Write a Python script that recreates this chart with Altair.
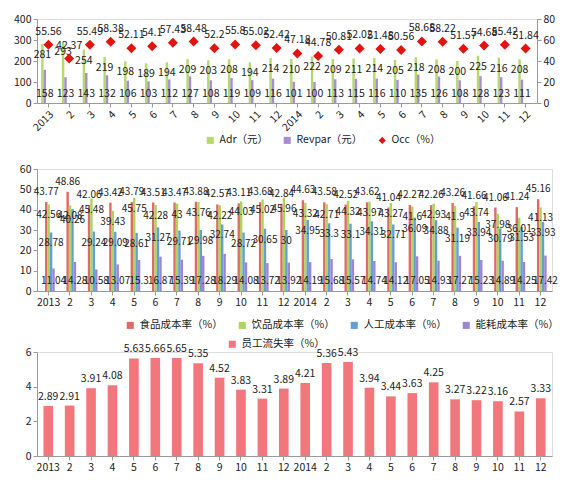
import altair as alt
import pandas as pd

months = ["2013", "2", "3", "4", "5", "6", "7", "8", "9", "10", "11", "12",
          "2014", "2", "3", "4", "5", "6", "7", "8", "9", "10", "11", "12"]

adr = [281, 293, 254, 219, 198, 189, 194, 209, 203, 208, 194, 214,
       210, 222, 209, 211, 214, 205, 218, 208, 200, 225, 216, 208]
revpar = [158, 123, 143, 132, 106, 103, 112, 127, 108, 119, 109, 116,
          101, 100, 113, 115, 116, 110, 135, 126, 108, 128, 123, 111]
occ = [55.56, 42.37, 55.49, 58.38, 52.11, 54.1, 57.43, 58.48, 52.2, 55.8, 55.02, 52.42,
       47.18, 44.78, 50.81, 52.02, 51.48, 50.56, 58.68, 58.22, 51.57, 54.68, 55.42, 51.84]

food = [43.77, 48.86, 42.06, 43.42, 43.79, 43.51, 43.47, 43.88, 42.57, 43.11, 43.68, 42.84,
        44.63, 43.58, 42.52, 43.62, 41.04, 42.27, 42.26, 43.26, 41.66, 41.06, 41.24, 45.16]
drink = [42.56, 42.08, 45.48, 39.43, 45.75, 42.28, 43.00, 43.76, 42.22, 44.03, 45.02, 45.96,
         43.32, 42.71, 44.32, 43.97, 43.27, 41.6, 42.93, 41.9, 43.74, 37.98, 36.01, 41.13]
labor = [28.78, 40.26, 29.24, 29.09, 28.61, 31.27, 29.71, 29.98, 32.74, 28.72, 30.65, 30,
         34.95, 33.3, 33.1, 34.31, 32.71, 36.09, 34.88, 31.19, 33.94, 30.79, 31.53, 33.93]
energy = [11.04, 14.28, 10.58, 13.07, 15.3, 16.87, 15.39, 17.28, 18.29, 14.08, 13.72, 13.92,
          14.19, 15.68, 15.57, 14.74, 14.12, 17.05, 14.93, 17.27, 15.23, 14.89, 14.25, 17.42]

turnover = [2.89, 2.91, 3.91, 4.08, 5.63, 5.66, 5.65, 5.35, 4.52, 3.83, 3.31, 3.89,
            4.21, 5.36, 5.43, 3.94, 3.44, 3.63, 4.25, 3.27, 3.22, 3.16, 2.57, 3.33]

s1 = ["Adr（元）", "Revpar（元）", "Occ（%）"]
s2 = ["食品成本率（%）", "饮品成本率（%）", "人工成本率（%）", "能耗成本率（%）"]
s3 = ["员工流失率（%）"]

c1 = ["#b7d96c", "#a58ed3", "#e3140f"]
c2 = ["#de6b66", "#add45f", "#639fd6", "#9e84d3"]
c3 = ["#f2777d"]

FONT = "Noto Sans CJK SC"
idx = list(range(len(months)))
lab_expr = "[" + ",".join("'%s'" % m for m in months) + "][datum.value]"


def fmt(v):
    return ("%.2f" % v).rstrip("0").rstrip(".")


ax = dict(labelFont=FONT, labelFontSize=10.5, labelColor="#222", domainColor="#9a9a9a",
          tickColor="#9a9a9a", grid=False, title=None, tickSize=4, labelOverlap=False)

# ---------------- Panel 1 ----------------
df1b = pd.DataFrame({"idx": idx * 2, "series": [s1[0]] * 24 + [s1[1]] * 24,
                     "value": adr + revpar})
df1b["label"] = [fmt(v) for v in df1b["value"]]
df1o = pd.DataFrame({"idx": idx, "series": s1[2], "value": occ})
df1o["label"] = [fmt(v) for v in occ]

x1 = alt.X("idx:O", axis=alt.Axis(labelExpr=lab_expr, labelAngle=-45, **ax),
           scale=alt.Scale(paddingInner=0.3, paddingOuter=0.2))
xo1 = alt.XOffset("series:N", scale=alt.Scale(domain=s1[:2]))
ysc1 = alt.Scale(domain=[0, 400])
yax1 = alt.Axis(values=[0, 100, 200, 300, 400], **ax)
y1 = alt.Y("value:Q", scale=ysc1, axis=yax1)
leg1 = alt.Legend(orient="none", legendX=168, legendY=116, direction="horizontal",
                  title=None, labelFont=FONT, labelFontSize=10.5, columnPadding=14,
                  symbolSize=50, labelColor="#222")
sc1 = alt.Scale(domain=s1, range=c1)
shp1 = alt.Scale(domain=s1, range=["square", "square", "diamond"])

bars1 = alt.Chart(df1b).mark_bar().encode(
    x=x1, xOffset=xo1, y=y1,
    color=alt.Color("series:N", scale=sc1, legend=leg1))
t_adr = alt.Chart(df1b[df1b.series == s1[0]]).mark_text(
    dy=11, font=FONT, fontSize=10.5, color="#222").encode(x=x1, xOffset=xo1, y=y1, text="label:N")
t_rev = alt.Chart(df1b[df1b.series == s1[1]]).mark_text(
    font=FONT, fontSize=10.5, color="#222").encode(
    x=x1, xOffset=xo1, y=alt.YDatum(45, type="quantitative", scale=ysc1, axis=yax1), text="label:N")

y1r = alt.Y("value:Q", scale=alt.Scale(domain=[0, 80]),
            axis=alt.Axis(values=[0, 20, 40, 60, 80], orient="right", **ax))
pts1 = alt.Chart(df1o).mark_point(filled=True, size=100, opacity=1).encode(
    x=x1, y=y1r,
    color=alt.Color("series:N", scale=sc1, legend=leg1),
    shape=alt.Shape("series:N", scale=shp1, legend=leg1))
t_occ = alt.Chart(df1o).mark_text(dy=-13, font=FONT, fontSize=10.5, color="#222").encode(
    x=x1, y=y1r, text="label:N")

p1 = alt.layer(alt.layer(bars1, t_adr, t_rev), alt.layer(pts1, t_occ)).resolve_scale(
    y="independent").properties(width=500, height=84)

# ---------------- Panel 2 ----------------
vals2 = [food, drink, labor, energy]
rows = []
for s, vals in zip(s2, vals2):
    for i, v in zip(idx, vals):
        rows.append({"idx": i, "series": s, "value": v, "label": fmt(v)})
df2 = pd.DataFrame(rows)

x2 = alt.X("idx:O", axis=alt.Axis(labelExpr=lab_expr, labelAngle=0, **ax),
           scale=alt.Scale(paddingInner=0.22, paddingOuter=0.15))
xo2 = alt.XOffset("series:N", scale=alt.Scale(domain=s2))
ysc2 = alt.Scale(domain=[0, 60])
yax2 = alt.Axis(values=[0, 10, 20, 30, 40, 50, 60], **ax)
y2 = alt.Y("value:Q", scale=ysc2, axis=yax2)
leg2 = alt.Legend(orient="none", legendX=88, legendY=151, direction="horizontal",
                  title=None, labelFont=FONT, labelFontSize=10.5, columnPadding=14,
                  symbolType="square", symbolSize=50, labelColor="#222")
bars2 = alt.Chart(df2).mark_bar().encode(
    x=x2, xOffset=xo2, y=y2,
    color=alt.Color("series:N", scale=alt.Scale(domain=s2, range=c2), legend=leg2))
tk = dict(font=FONT, fontSize=10, color="#222")
t_food = alt.Chart(df2[df2.series == s2[0]]).mark_text(dy=-10, **tk).encode(
    x=x2, xOffset=xo2, y=y2, text="label:N")
t_drink = alt.Chart(df2[df2.series == s2[1]]).mark_text(dy=11, **tk).encode(
    x=x2, xOffset=xo2, y=y2, text="label:N")
t_labor = alt.Chart(df2[df2.series == s2[2]]).mark_text(dy=11, **tk).encode(
    x=x2, xOffset=xo2, y=y2, text="label:N")
t_energy = alt.Chart(df2[df2.series == s2[3]]).mark_text(**tk).encode(
    x=x2, xOffset=xo2, y=alt.YDatum(5, type="quantitative", scale=ysc2, axis=yax2), text="label:N")
p2 = alt.layer(bars2, t_food, t_drink, t_labor, t_energy).properties(width=515, height=122)

# ---------------- Panel 3 ----------------
df3 = pd.DataFrame({"idx": idx, "series": s3[0], "value": turnover})
df3["label"] = [fmt(v) for v in turnover]
x3 = alt.X("idx:O", axis=alt.Axis(labelExpr=lab_expr, labelAngle=0, **ax),
           scale=alt.Scale(paddingInner=0.55, paddingOuter=0.3))
y3 = alt.Y("value:Q", scale=alt.Scale(domain=[0, 6]),
           axis=alt.Axis(values=[0, 2, 4, 6], **ax))
leg3 = alt.Legend(orient="none", legendX=190, legendY=-13, direction="horizontal",
                  title=None, labelFont=FONT, labelFontSize=10.5,
                  symbolType="square", symbolSize=50, labelColor="#222")
bars3 = alt.Chart(df3).mark_bar().encode(
    x=x3, y=y3, color=alt.Color("series:N", scale=alt.Scale(domain=s3, range=c3), legend=leg3))
t3 = alt.Chart(df3).mark_text(dy=-9, font=FONT, fontSize=10.5, color="#222").encode(
    x=x3, y=y3, text="label:N")
p3 = alt.layer(bars3, t3).properties(width=515, height=104)

lower = alt.vconcat(p2, p3, spacing=6).resolve_scale(
    color="independent").resolve_legend(color="independent")

chart = alt.vconcat(p1, lower, spacing=16).resolve_scale(
    color="independent", shape="independent").resolve_legend(
    color="independent", shape="independent").configure_view(stroke=None).configure(
    background="white")

chart.save("out.html", embed_options={"renderer": "svg", "actions": False})
